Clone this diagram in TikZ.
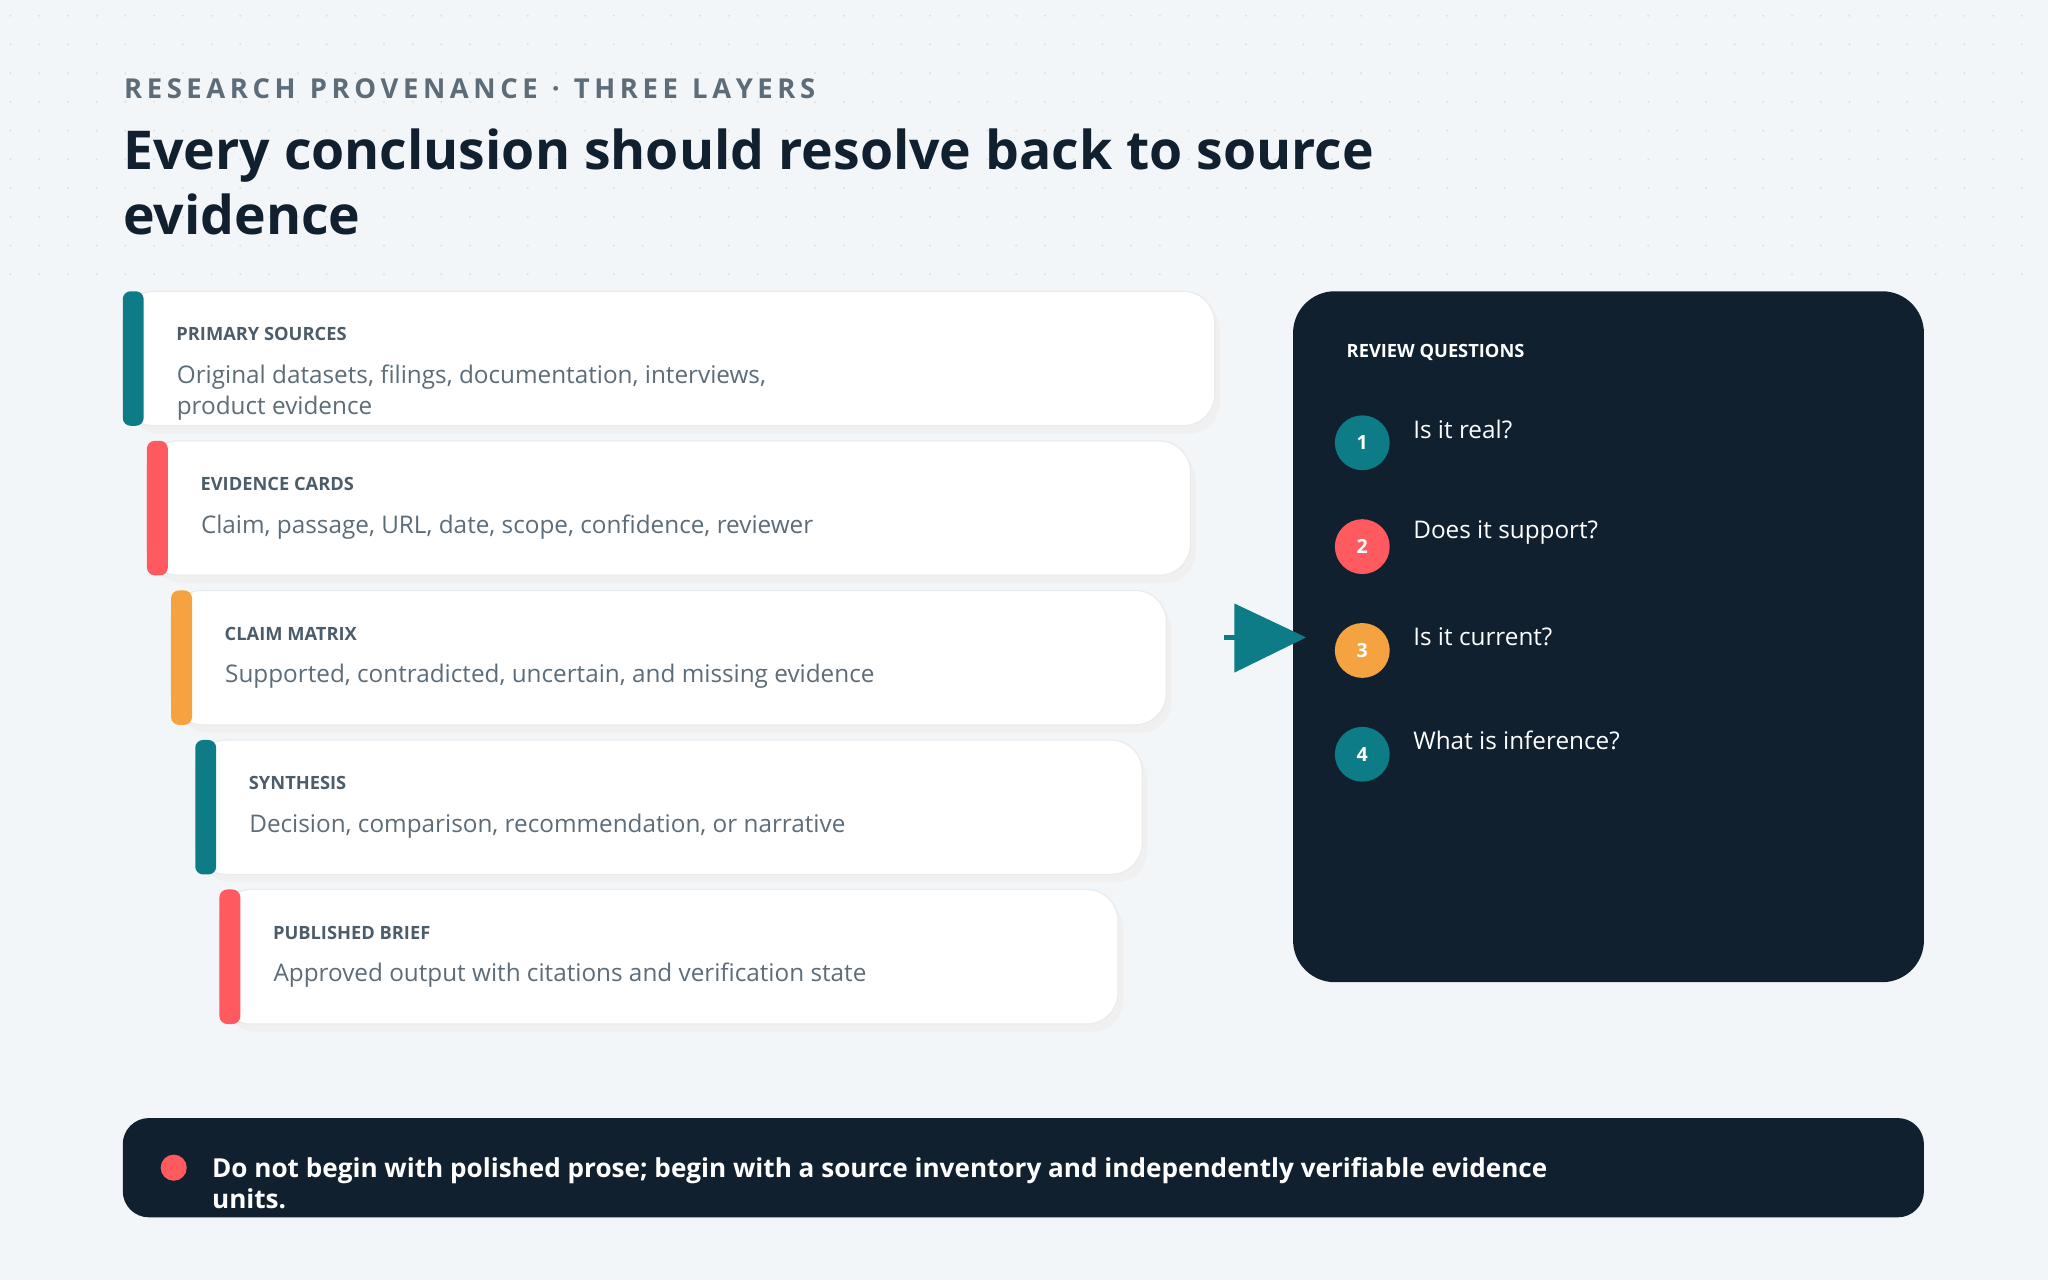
\documentclass[tikz,border=0pt]{standalone}
\usepackage{fontspec}
\setmainfont{Open Sans}
\usetikzlibrary{positioning}
\definecolor{teal}{HTML}{0E7C86}
\definecolor{coral}{HTML}{FF5A5F}
\definecolor{amber}{HTML}{F4A340}
\definecolor{ink}{HTML}{10202F}
\definecolor{bg}{HTML}{F3F6F9}
\definecolor{muted}{HTML}{5C6C78}
\definecolor{kick}{HTML}{4C5D69}
\tikzset{
  card/.style={draw=black!8, fill=white, rounded corners=12pt, line width=0.5pt},
  bar/.style={rounded corners=3pt},
  layerhead/.style={anchor=west, font=\fontsize{7}{8}\selectfont\bfseries, text=kick},
  body/.style={anchor=north west, font=\fontsize{9.3}{12}\selectfont, text=muted, align=left},
  num/.style={circle, minimum size=21pt, inner sep=0pt, text=white, font=\fontsize{7.5}{8}\selectfont\bfseries},
  ask/.style={anchor=west, text=white, font=\fontsize{9.3}{11}\selectfont}
}
\begin{document}
\begin{tikzpicture}[x=0.5pt,y=-0.5pt]
\fill[bg] (0,0) rectangle (1568,980);
\useasboundingbox (0,0) rectangle (1568,980);
% dotted backdrop
\foreach \i in {0,...,71}
  \foreach \j in {0,...,9}
    \fill[black!12] (8+\i*22,12+\j*22) circle (0.9);

\node[anchor=west, font=\fontsize{10.5}{12}\selectfont\bfseries, text=muted] (kicker) at (88,68)
  {R\,E\,S\,E\,A\,R\,C\,H\ \ P\,R\,O\,V\,E\,N\,A\,N\,C\,E\ \ ·\ \ T\,H\,R\,E\,E\ \ L\,A\,Y\,E\,R\,S};
\node[anchor=north west, inner sep=0pt, font=\fontsize{20.5}{25}\selectfont\bfseries, text=ink, align=left] (title) at (94,98)
  {Every conclusion should resolve back to source\\evidence};

% layered cards
\foreach \n/\col/\head/\txt in {
  0/teal/PRIMARY SOURCES/{Original datasets, filings, documentation, interviews,\\product evidence},
  1/coral/EVIDENCE CARDS/{Claim, passage, URL, date, scope, confidence, reviewer},
  2/amber/CLAIM MATRIX/{Supported, contradicted, uncertain, and missing evidence},
  3/teal/SYNTHESIS/{Decision, comparison, recommendation, or narrative},
  4/coral/PUBLISHED BRIEF/{Approved output with citations and verification state}} {
  \pgfmathsetmacro\xl{94+18.5*\n}
  \pgfmathsetmacro\yt{223+114.5*\n}
  \pgfmathsetmacro\xr{930-18.5*\n}
  \fill[black!6] (\xl+4,\yt+6) [rounded corners=12pt] rectangle (\xr+4,\yt+109);
  \draw[card] (\xl,\yt) rectangle (\xr,\yt+103);
  \fill[\col, bar] (\xl,\yt) rectangle (\xl+16,\yt+103);
  \node[layerhead] (head\n) at (\xl+34,\yt+33) {\head};
  \node[body, inner sep=0pt] (txt\n) at (\xl+41,\yt+56) {\txt};
}

% review panel
\fill[ink, rounded corners=16pt] (990,223) rectangle (1473,752);
\node[layerhead, text=white] (rq) at (1024,270) {REVIEW QUESTIONS};
\foreach \k/\col/\q in {1/teal/Is it real?, 2/coral/Does it support?, 3/amber/Is it current?, 4/teal/What is inference?} {
  \node[num, fill=\col] (n\k) at (1043,259.5+79.5*\k) {\k};
  \node[ask] (q\k) at (1075,249+79.5*\k) {\q};
}
\coordinate (tail) at (937,488);
\coordinate (tip) at (1000,488);
\draw[teal, line width=2pt] (tail) -- (950,488);
\fill[teal] (945,462) -- (tip) -- (945,515) -- cycle;

% bottom note
\fill[ink, rounded corners=10pt] (94,856) rectangle (1473,932);
\fill[coral] (133,894) circle (10);
\node[anchor=west, text=white, font=\fontsize{10}{12}\selectfont\bfseries, align=left, inner sep=0pt] (note) at (162,906)
  {Do not begin with polished prose; begin with a source inventory and independently verifiable evidence\\units.};
\end{tikzpicture}
\end{document}
